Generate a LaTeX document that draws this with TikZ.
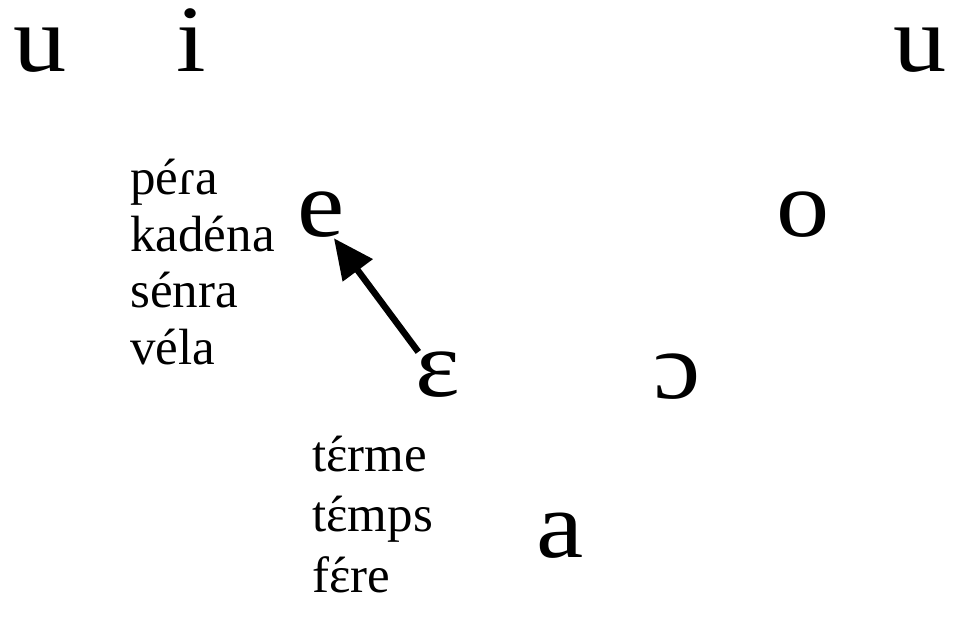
\documentclass[tikz,border=0pt]{standalone}
\usepackage{fontspec}
\setmainfont{Liberation Serif}
\newfontfamily\vowelfont[FakeStretch=1.12]{Liberation Serif}
\usetikzlibrary{arrows.meta,calc}
\newcommand{\epsac}{\ooalign{ɛ\cr\hidewidth\char"00B4\hidewidth\cr}}
\tikzset{
  vowel/.style={font=\vowelfont\fontsize{54}{54}\selectfont, inner sep=0pt, anchor=base},
  word/.style={font=\fontsize{29}{29}\selectfont, inner sep=0pt, anchor=base west},
  movearrow/.style={line width=3.7pt, -{Triangle[length=0.8cm,width=0.72cm]}}
}
\begin{document}
\begin{tikzpicture}
  \useasboundingbox (0,0) rectangle (19.16,12.48);
  % vokal
  \node[vowel] (ul) at (0.80,11.04) {u};
  \node[vowel] (i)  at (3.82,11.04) {i};
  \node[vowel] (ur) at (18.40,11.04) {u};
  \node[vowel] (e)  at (6.42,7.74) {e};
  \node[vowel] (o)  at (16.06,7.74) {o};
  \node[vowel] (eps) at (8.76,4.54) {ɛ};
  \node[vowel] (oo) at (13.54,4.50) {ɔ};
  \node[vowel] (a)  at (11.20,1.32) {a};
  % contoh kata e
  \foreach \n/\y/\t in {w1/8.58/péɾa, w2/7.44/kadéna, w3/6.32/sénra, w4/5.18/véla}
    \node[word] (\n) at (2.60,\y) {\t};
  % contoh kata eps
  \foreach \n/\y/\t in {v1/3.04/t\epsac rme, v2/1.84/t\epsac mps, v3/0.62/f\epsac re}
    \node[word] (\n) at (6.24,\y) {\t};
  \draw[movearrow] ([xshift=0.06cm]eps.north west) -- ([xshift=-0.22cm]e.south east);
\end{tikzpicture}
\end{document}
